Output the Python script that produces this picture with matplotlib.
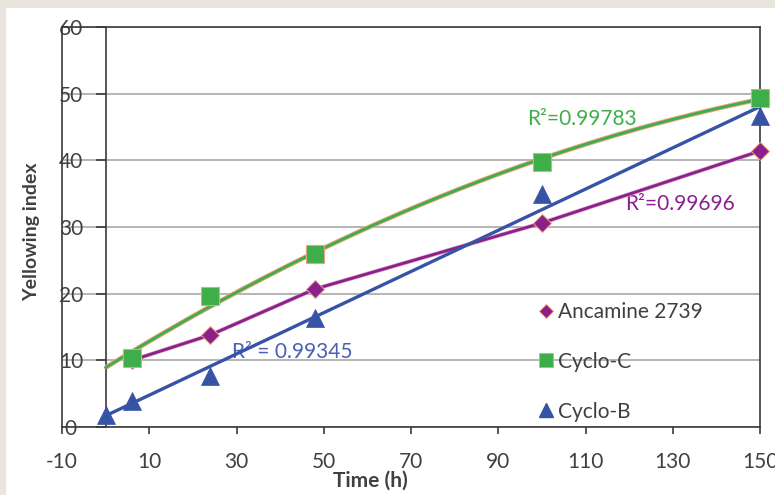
import numpy as np
import matplotlib
matplotlib.use("Agg")
import matplotlib.pyplot as plt
from matplotlib.lines import Line2D
from matplotlib.patches import Rectangle

plt.rcParams['font.family'] = ['Lato', 'DejaVu Sans']
plt.rcParams['axes.unicode_minus'] = False

# ---- data ----
t_anc = [6, 24, 48, 100, 150]
y_anc = [10.0, 13.8, 20.7, 30.6, 41.4]
t_cc = [6, 24, 48, 100, 150]
y_cc = [10.3, 19.6, 26.0, 39.7, 49.4]
t_cb = [0, 6, 24, 48, 100, 150]
y_cb = [1.8, 3.9, 7.7, 16.4, 35.0, 46.7]
series_names = ["Ancamine 2739", "Cyclo-C", "Cyclo-B"]
r2_labels = ["R\u00b2=0.99696", "R\u00b2=0.99783", "R\u00b2 = 0.99345"]
x_ticks = [-10, 10, 30, 50, 70, 90, 110, 130, 150]
y_ticks = [0, 10, 20, 30, 40, 50, 60]

c_purple = "#8C1F8E"
c_green = "#3DAE49"
c_blue = "#3753A6"
c_edge = "#E9A27F"
c_dark = "#3A3A3A"
c_grid = "#A8A8A8"
c_text = "#404040"

fig = plt.figure(figsize=(7.75, 4.95), dpi=100)
fig.patch.set_facecolor("#E9E5DE")
fig.patches.append(Rectangle((6/775, 0), 1, 1 - 8/495, transform=fig.transFigure,
                             facecolor="white", edgecolor="none", zorder=-10))

ax = fig.add_axes([62/775, 1 - 427/495, 698/775, 400/495])
ax.set_zorder(1)
ax.set_facecolor("none")
ax.set_xlim(-10, 150)
ax.set_ylim(0, 60)

# gridlines
ax.set_yticks(y_ticks)
ax.yaxis.grid(True, color=c_grid, lw=1.2)
ax.set_axisbelow(True)

# spines
for s in ["top", "right", "bottom"]:
    ax.spines[s].set_color(c_dark)
    ax.spines[s].set_linewidth(1.2)
ax.spines["left"].set_position(("data", 0))
ax.spines["left"].set_color(c_dark)
ax.spines["left"].set_linewidth(1.2)
ax.axvline(-10, color=c_dark, lw=1.2, clip_on=False, zorder=2)

ax.set_xticks(x_ticks)
ax.tick_params(axis='x', direction='out', length=5, width=1.2, color=c_dark,
               labelsize=15, labelcolor=c_text, pad=13)
ax.tick_params(axis='y', direction='out', length=7, width=1.2, color=c_dark,
               labelsize=15, labelcolor=c_text, pad=18)
for lab in ax.get_yticklabels():
    lab.set_horizontalalignment('center')
    lab.set_verticalalignment('center_baseline')

# trend / series lines
tt = np.linspace(0, 150, 300)
pc = np.polyfit(t_cc, y_cc, 2)
ax.plot(tt, np.polyval(pc, tt), color=c_edge, lw=3.4, zorder=3, solid_capstyle='butt')
ax.plot(tt, np.polyval(pc, tt), color=c_green, lw=2.0, zorder=3.1)

ax.plot(t_anc, y_anc, color="#D9A0C0", lw=3.0, zorder=3)
ax.plot(t_anc, y_anc, color=c_purple, lw=2.0, zorder=3.1)

pb = np.polyfit(t_cb, y_cb, 1)
ax.plot(tt, np.polyval(pb, tt), color=c_blue, lw=2.4, zorder=3.2)

# markers
ax.plot(t_anc, y_anc, ls='none', marker='D', ms=9.5, color=c_purple,
        mec=c_edge, mew=0.7, zorder=4, clip_on=False)
ax.plot(t_cc, y_cc, ls='none', marker='s', ms=13, color=c_green,
        mec=c_edge, mew=0.8, zorder=4.1, clip_on=False)
ax.plot(t_cb, y_cb, ls='none', marker='^', ms=13, color=c_blue,
        mec=c_blue, mew=0.5, zorder=4.2, clip_on=False)

# R^2 annotations
ax.text(119, 33.5, r2_labels[0], color=c_purple, fontsize=15, ha='left', va='center', zorder=2.5)
ax.text(96.7, 46.2, r2_labels[1], color=c_green, fontsize=15, ha='left', va='center', zorder=2.5)
ax.text(28.9, 11.3, r2_labels[2], color="#4A60B0", fontsize=15, ha='left', va='center', zorder=2.5)

# legend
handles = [
    Line2D([], [], ls='none', marker='D', ms=7, color=c_purple, mec=c_edge, mew=0.6),
    Line2D([], [], ls='none', marker='s', ms=10, color=c_green, mec=c_edge, mew=0.7),
    Line2D([], [], ls='none', marker='^', ms=10, color=c_blue),
]
leg = ax.legend(handles, series_names, loc='upper left',
                bbox_to_anchor=((538 - 62) / 698, (427 - 302) / 400),
                frameon=False, fontsize=15, handlelength=0.75, handletextpad=0.2,
                labelspacing=1.43, borderpad=0, borderaxespad=0)
for txt in leg.get_texts():
    txt.set_color(c_text)

# axis labels
ax.set_xlabel("Time (h)", fontsize=15, fontweight='bold', color=c_text)
ax.xaxis.set_label_coords((370 - 62) / 698, -0.108)
ax.set_ylabel("Yellowing index", fontsize=14, fontweight='bold', color=c_text)
ax.yaxis.label.set_va('center')
ax.yaxis.set_label_coords((32 - 62) / 698, (427 - 232) / 400)

fig.savefig("out.png", dpi=100)
